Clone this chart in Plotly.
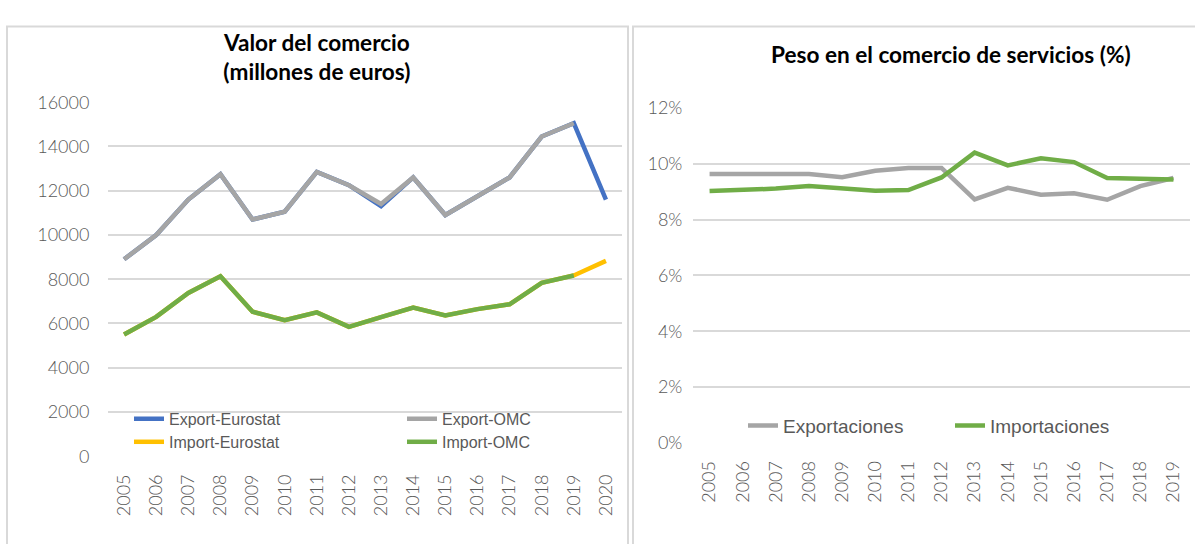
import plotly.graph_objects as go

# Panel 1: valor del comercio (millones de euros)
years_val = [str(y) for y in range(2005, 2021)]
export_eurostat = [8900, 10000, 11600, 12750, 10700, 11050, 12850, 12250, 11300,
                   12600, 10900, 11750, 12600, 14450, 15050, 11600]
export_omc = [8900, 10000, 11600, 12750, 10700, 11050, 12850, 12250, 11400,
              12600, 10900, 11750, 12600, 14450, 15050, None]
import_eurostat = [5500, 6300, 7380, 8130, 6530, 6150, 6500, 5850, 6290,
                   6720, 6360, 6650, 6870, 7840, 8170, 8830]
import_omc = [5500, 6300, 7380, 8130, 6530, 6150, 6500, 5850, 6290,
              6720, 6360, 6650, 6870, 7840, 8170, None]

# Panel 2: peso en el comercio de servicios (%)
years_pct = [str(y) for y in range(2005, 2020)]
exportaciones = [9.63, 9.63, 9.63, 9.63, 9.52, 9.75, 9.85, 9.85, 8.72,
                 9.14, 8.89, 8.94, 8.71, 9.2, 9.49]
importaciones = [9.02, 9.06, 9.11, 9.2, 9.13, 9.03, 9.06, 9.51, 10.4,
                 9.94, 10.2, 10.06, 9.49, 9.45, 9.44]

W, H = 1195, 544
TICK_FONT = dict(family="Lato", size=18, color="#595959", weight=300)
LEG_FONT = dict(family="Liberation Sans", size=16, color="#595959")
TITLE_FONT = dict(family="Lato", size=22.6, color="#000000")
GRID = "#d9d9d9"

BLUE = "#4472C4"
GRAY = "#A5A5A5"
YELLOW = "#FFC000"
GREEN = "#70AD47"


def px_x(x):
    return x / W


def px_y(y):
    return 1 - y / H


fig = go.Figure()

left_series = [
    ("Export-Eurostat", export_eurostat, BLUE, "legend"),
    ("Export-OMC", export_omc, GRAY, "legend"),
    ("Import-Eurostat", import_eurostat, YELLOW, "legend2"),
    ("Import-OMC", import_omc, GREEN, "legend2"),
]
for name, vals, color, leg in left_series:
    fig.add_trace(
        go.Scatter(
            x=years_val,
            y=vals,
            name=name,
            mode="lines",
            line=dict(color=color, width=4.5),
            xaxis="x",
            yaxis="y",
            legend=leg,
        )
    )

right_series = [
    ("Exportaciones", exportaciones, GRAY),
    ("Importaciones", importaciones, GREEN),
]
for name, vals, color in right_series:
    fig.add_trace(
        go.Scatter(
            x=years_pct,
            y=vals,
            name=name,
            mode="lines",
            line=dict(color=color, width=4.5),
            xaxis="x2",
            yaxis="y2",
            legend="legend3",
        )
    )

axis_common = dict(
    tickfont=TICK_FONT,
    showline=False,
    zeroline=False,
    fixedrange=True,
)

legend_common = dict(
    orientation="h",
    xanchor="left",
    yanchor="middle",
    bgcolor="rgba(0,0,0,0)",
    itemclick=False,
    itemdoubleclick=False,
)

fig.update_layout(
    width=W,
    height=H,
    margin=dict(l=0, r=0, t=0, b=0),
    paper_bgcolor="white",
    plot_bgcolor="white",
    xaxis=dict(
        domain=[px_x(108), px_x(622)],
        type="category",
        range=[-0.5, 15.5],
        tickangle=-90,
        showgrid=False,
        ticks="outside",
        ticklen=10,
        tickcolor="rgba(0,0,0,0)",
        anchor="y",
        **axis_common,
    ),
    yaxis=dict(
        domain=[px_y(463), px_y(94)],
        range=[0, 16000],
        dtick=2000,
        tickformat="d",
        showgrid=True,
        gridcolor=GRID,
        gridwidth=1.5,
        ticks="outside",
        ticklen=14,
        tickcolor="rgba(0,0,0,0)",
        anchor="x",
        **axis_common,
    ),
    xaxis2=dict(
        domain=[px_x(693), px_x(1190)],
        type="category",
        range=[-0.5, 14.5],
        tickangle=-90,
        showgrid=False,
        ticks="outside",
        ticklen=10,
        tickcolor="rgba(0,0,0,0)",
        anchor="y2",
        **axis_common,
    ),
    yaxis2=dict(
        domain=[px_y(449), px_y(100)],
        range=[0, 12],
        dtick=2,
        ticksuffix="%",
        showgrid=True,
        gridcolor=GRID,
        gridwidth=1.5,
        ticks="outside",
        ticklen=6,
        tickcolor="rgba(0,0,0,0)",
        anchor="x2",
        **axis_common,
    ),
    legend=dict(x=px_x(129), y=px_y(424), entrywidth=228, font=LEG_FONT,
                **legend_common),
    legend2=dict(x=px_x(129), y=px_y(448), entrywidth=228, font=LEG_FONT,
                 **legend_common),
    legend3=dict(x=px_x(743), y=px_y(431), entrywidth=162,
                 font=dict(family="Liberation Sans", size=19, color="#595959"),
                 **legend_common),
    annotations=[
        dict(
            text="<b>Valor del comercio<br>(millones de euros)</b>",
            x=px_x(316),
            y=px_y(47),
            xref="paper",
            yref="paper",
            xanchor="center",
            yanchor="middle",
            showarrow=False,
            font=TITLE_FONT,
        ),
        dict(
            text="<b>Peso en el comercio de servicios (%)</b>",
            x=px_x(951),
            y=px_y(44),
            xref="paper",
            yref="paper",
            xanchor="center",
            yanchor="middle",
            showarrow=False,
            font=TITLE_FONT,
        ),
    ],
    shapes=[
        dict(type="rect", xref="paper", yref="paper",
             x0=px_x(7), x1=px_x(628), y0=px_y(560), y1=px_y(15),
             line=dict(color=GRID, width=2)),
        dict(type="rect", xref="paper", yref="paper",
             x0=px_x(633), x1=px_x(1210), y0=px_y(560), y1=px_y(15),
             line=dict(color=GRID, width=2)),
    ],
)

# the page body has a default 8px margin; drop it so the figure fills the window
fig.write_html(
    "out.html",
    config={"displayModeBar": False},
    post_script="document.body.style.margin='0';",
)
